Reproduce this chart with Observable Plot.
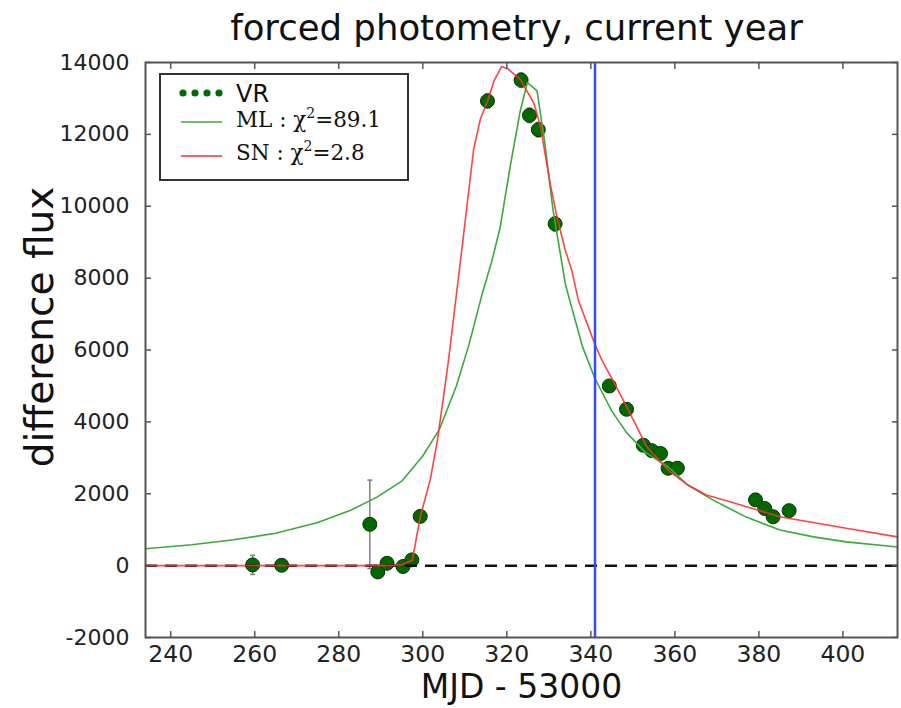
<!DOCTYPE html>
<html><head><meta charset="utf-8">
<script src="https://cdn.jsdelivr.net/npm/d3@7"></script>
<script src="https://cdn.jsdelivr.net/npm/@observablehq/plot@0.6"></script>
<style>
body{margin:0;background:#fff;}
#wrap{position:relative;width:901px;height:708px;font-family:"DejaVu Sans",sans-serif;background:#fff;overflow:hidden;}
#title{position:absolute;left:66px;top:10px;width:901px;text-align:center;font-size:35.5px;line-height:1;color:#111;}
#chart{position:absolute;left:0;top:50px;}
#legend{position:absolute;left:159px;top:73px;width:246px;height:104px;border:2px solid #333;background:#fff;}
.lab-sans{position:absolute;left:75px;font-family:"DejaVu Sans",sans-serif;font-size:24px;line-height:1;color:#111;}
.lab-serif{position:absolute;left:75px;font-family:"DejaVu Serif",serif;font-size:21.5px;line-height:1;color:#111;white-space:nowrap;}
.lab-serif sup{font-size:14px;vertical-align:9px;line-height:0;}
</style></head><body>
<div id="wrap">
<div id="title"></div>
<div id="chart"></div>
<div id="legend"></div>
</div>
<script>
// VR photometry points
const vrMjd  = [259.5, 266.4, 287.4, 289.3, 291.5, 295.3, 297.4, 299.4, 315.4, 323.4, 325.4, 327.5, 331.5, 344.4, 348.5, 352.5, 354.5, 356.6, 358.4, 360.6, 379.2, 381.4, 383.4, 387.2];
const vrFlux = [20, 10, 1150, -175, 65, -25, 160, 1370, 12930, 13510, 12530, 12130, 9510, 5000, 4350, 3350, 3200, 3120, 2710, 2710, 1830, 1590, 1360, 1530];
const vrErr  = [265, 120, 1230, 150, 150, 150, 150, 150, 200, 200, 200, 200, 200, 150, 150, 150, 150, 150, 150, 150, 150, 150, 150, 150];

// ML model curve
const mlMjd  = [234, 245, 255, 265, 275, 283, 289, 295, 300, 304, 308, 311, 314, 316.5, 318.4, 320.8, 323.2, 324.9, 327.2, 329, 331, 334, 338, 341, 345, 348.5, 353, 358.4, 363, 369, 377, 385, 393, 400.8, 413];
const mlFlux = [470, 580, 720, 900, 1200, 1550, 1900, 2350, 3050, 3800, 5000, 6150, 7500, 8500, 9400, 11100, 12650, 13440, 13210, 11800, 9900, 7800, 6100, 5200, 4300, 3700, 3150, 2750, 2250, 1830, 1350, 990, 800, 660, 520];

// SN model curve
const snMjd  = [234, 260, 285, 293, 295, 297.5, 299.4, 301.8, 303.5, 306, 309.3, 312.1, 313.7, 315.4, 317, 318.8, 320.4, 323.2, 326.4, 328, 330.3, 331.9, 333.9, 335.5, 337, 341, 342.6, 348.5, 353.3, 358.4, 363, 367.5, 373.1, 385, 400.8, 413];
const snFlux = [0, 0, 0, 0, 30, 150, 1360, 2400, 3500, 5600, 8800, 11580, 12420, 12930, 13500, 13890, 13810, 13530, 12880, 12230, 10650, 9720, 8790, 8200, 7400, 6150, 5730, 4430, 3310, 2660, 2250, 1965, 1780, 1360, 1040, 800];

// reference epoch (vertical line) and axes
const markerMjd = [341];
const xTicks = [240, 260, 280, 300, 320, 340, 360, 380, 400];
const yTicks = [-2000, 0, 2000, 4000, 6000, 8000, 10000, 12000, 14000];
const xDomain = [234, 413];
const yDomain = [-2000, 14000];
const titleText = "forced photometry, current year";
const xLabel = "MJD - 53000";
const yLabel = "difference flux";
const legendVR = "VR";
const legendML = {name: "ML", chi2: "89.1"};
const legendSN = {name: "SN", chi2: "2.8"};

const vr = vrMjd.map((x, i) => ({x, y: vrFlux[i], e: vrErr[i]}));
const ml = mlMjd.map((x, i) => ({x, y: mlFlux[i]}));
const sn = snMjd.map((x, i) => ({x, y: snFlux[i]}));

const frameCol = "#555";
const fmt = d => String(d);
const chart = Plot.plot({
  width: 901, height: 658,
  marginLeft: 145, marginRight: 4, marginTop: 12, marginBottom: 71,
  x: {domain: xDomain},
  y: {domain: yDomain},
  style: {fontFamily: "DejaVu Sans", background: "white", color: "#222", overflow: "visible"},
  marks: [
    Plot.ruleX(vr, {x: "x", y1: d => d.y - d.e, y2: d => d.y + d.e, stroke: "#808080", strokeWidth: 1.5}),
    Plot.link(vr, {x1: d => d.x - 0.6, x2: d => d.x + 0.6, y1: d => d.y + d.e, y2: d => d.y + d.e, stroke: "#808080", strokeWidth: 1.5}),
    Plot.link(vr, {x1: d => d.x - 0.6, x2: d => d.x + 0.6, y1: d => d.y - d.e, y2: d => d.y - d.e, stroke: "#808080", strokeWidth: 1.5}),
    Plot.dot(vr, {x: "x", y: "y", r: 7, fill: "#006a00", stroke: "#0a300a", strokeWidth: 1}),
    Plot.line(ml, {x: "x", y: "y", stroke: "#3aaa3a", strokeWidth: 1.6}),
    Plot.ruleY([0], {stroke: "#111", strokeWidth: 2.5, strokeDasharray: "12,8"}),
    Plot.line(sn, {x: "x", y: "y", stroke: "#ff3030", strokeWidth: 1.6, strokeOpacity: 0.9}),
    Plot.ruleX(markerMjd, {stroke: "#2f4cff", strokeWidth: 2.5}),
    Plot.frame({stroke: frameCol, strokeWidth: 2}),
    Plot.axisY(yTicks, {anchor: "left", tickSize: -6, tickPadding: 22, fontSize: 22, tickFormat: fmt, stroke: frameCol, strokeWidth: 1.5, label: null}),
    Plot.axisY(yTicks, {anchor: "right", tickSize: -6, tickFormat: () => "", stroke: frameCol, strokeWidth: 1.5, label: null}),
    Plot.axisX(xTicks, {anchor: "bottom", tickSize: -6, tickPadding: 14, fontSize: 23.5, tickFormat: fmt, stroke: frameCol, strokeWidth: 1.5, label: null}),
    Plot.axisX(xTicks, {anchor: "top", tickSize: -6, tickFormat: () => "", stroke: frameCol, strokeWidth: 1.5, label: null}),
    Plot.text([xLabel], {frameAnchor: "bottom", dy: 50, fontSize: 33, fill: "#111", lineAnchor: "middle"}),
    Plot.text([yLabel], {frameAnchor: "left", dx: -105, dy: -23, rotate: -90, textAnchor: "middle", fontSize: 39, fill: "#111", lineAnchor: "middle"})
  ]
});
document.getElementById("chart").appendChild(chart);
document.getElementById("title").textContent = titleText;

// legend
const lg = document.getElementById("legend");
const ns = "http://www.w3.org/2000/svg";
function swatch(top, build) {
  const s = document.createElementNS(ns, "svg");
  s.setAttribute("width", 50); s.setAttribute("height", 12);
  s.style.position = "absolute"; s.style.left = "18px"; s.style.top = top + "px";
  build(s); lg.appendChild(s);
}
swatch(12, s => { [4, 16, 28, 40].forEach(cx => { const c = document.createElementNS(ns, "circle"); c.setAttribute("cx", cx); c.setAttribute("cy", 6); c.setAttribute("r", 3.6); c.setAttribute("fill", "#006a00"); s.appendChild(c); }); });
swatch(41, s => { const l = document.createElementNS(ns, "line"); l.setAttribute("x1", 2); l.setAttribute("x2", 43); l.setAttribute("y1", 6); l.setAttribute("y2", 6); l.setAttribute("stroke", "#3aaa3a"); l.setAttribute("stroke-width", 1.6); s.appendChild(l); });
swatch(75, s => { const l = document.createElementNS(ns, "line"); l.setAttribute("x1", 2); l.setAttribute("x2", 43); l.setAttribute("y1", 6); l.setAttribute("y2", 6); l.setAttribute("stroke", "#ff3030"); l.setAttribute("stroke-width", 1.6); s.appendChild(l); });
function label(cls, top, html) { const d = document.createElement("div"); d.className = cls; d.style.top = top + "px"; d.innerHTML = html; lg.appendChild(d); }
label("lab-sans", 7, legendVR);
label("lab-serif", 34, `${legendML.name} : χ<sup>2</sup>=${legendML.chi2}`);
label("lab-serif", 67, `${legendSN.name} : χ<sup>2</sup>=${legendSN.chi2}`);
</script>
</body></html>
